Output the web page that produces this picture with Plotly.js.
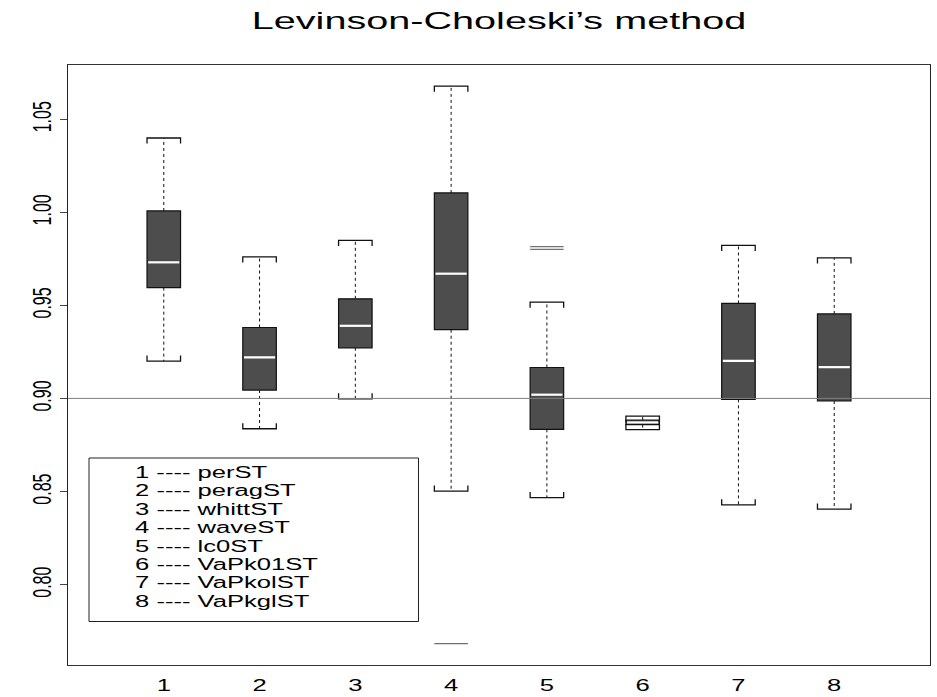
<!DOCTYPE html>
<html>
<head>
<meta charset="utf-8">
<script src="https://cdn.plot.ly/plotly-3.0.1.min.js"></script>
<style>
  html, body { margin: 0; padding: 0; background: #ffffff; }
  #chart { width: 937px; height: 697px; }
</style>
</head>
<body>
<div id="chart"></div>
<script>
// ---------------- data ----------------
const categories   = [1, 2, 3, 4, 5, 6, 7, 8];
const tickLabels   = ['1', '2', '3', '4', '5', '6', '7', '8'];
const methodNames  = ['perST', 'peragST', 'whittST', 'waveST', 'lc0ST', 'VaPk01ST', 'VaPkolST', 'VaPkglST'];
const lowerWhisker = [0.9200, 0.8837, 0.8998, 0.8502, 0.8467, 0.8832, 0.8428, 0.8405];
const q1Values     = [0.9595, 0.9045, 0.9272, 0.9369, 0.8834, 0.8859, 0.8995, 0.8986];
const medianValues = [0.9731, 0.9220, 0.9390, 0.9670, 0.9020, 0.8871, 0.9202, 0.9168];
const q3Values     = [1.0007, 0.9381, 0.9535, 1.0104, 0.9166, 0.8884, 0.9510, 0.9454];
const upperWhisker = [1.0399, 0.9760, 0.9849, 1.0677, 0.9517, 0.8905, 0.9822, 0.9755];
const outlierGroup = [4, 5, 5];
const outlierValue = [0.7683, 0.9815, 0.9801];
const referenceLevel = 0.90;
const yTickValues  = [0.80, 0.85, 0.90, 0.95, 1.00, 1.05];
const yTickText    = ['0.80', '0.85', '0.90', '0.95', '1.00', '1.05'];
const titleText    = 'Levinson-Choleski\u2019s method';

// ---------------- style ----------------
const boxWidth = 0.35;
const half = boxWidth / 2;
const capTick = 0.003;        // little bracket ends on the caps (y units)
const FONT = 'Liberation Sans, Arial, Helvetica, sans-serif';
const STRETCH = 1.6;          // reference text is horizontally stretched
const TITLE_STRETCH = 1.65;

// ---------------- traces ----------------
const traces = [];

// boxes (Q1 -> Q3)
traces.push({
  type: 'bar',
  x: categories,
  base: q1Values,
  y: q3Values.map((v, i) => v - q1Values[i]),
  width: boxWidth,
  marker: { color: '#4d4d4d', line: { color: '#111111', width: 1.2 } },
  hoverinfo: 'skip',
  showlegend: false
});

// whiskers (dotted)
const wx = [], wy = [];
categories.forEach((c, i) => {
  wx.push(c, c, null, c, c, null);
  wy.push(q3Values[i], upperWhisker[i], null, q1Values[i], lowerWhisker[i], null);
});
traces.push({
  type: 'scatter', mode: 'lines', x: wx, y: wy,
  line: { color: '#111111', width: 1, dash: 'dot' },
  hoverinfo: 'skip', showlegend: false
});

// caps with bracket ends
const cx = [], cy = [];
categories.forEach((c, i) => {
  const u = upperWhisker[i], l = lowerWhisker[i];
  cx.push(c - half, c - half, c + half, c + half, null);
  cy.push(u - capTick, u, u, u - capTick, null);
  cx.push(c - half, c - half, c + half, c + half, null);
  cy.push(l + capTick, l, l, l + capTick, null);
});
traces.push({
  type: 'scatter', mode: 'lines', x: cx, y: cy,
  line: { color: '#111111', width: 1.3 },
  hoverinfo: 'skip', showlegend: false
});

// medians (white)
const mx = [], my = [];
categories.forEach((c, i) => {
  mx.push(c - half * 0.93, c + half * 0.93, null);
  my.push(medianValues[i], medianValues[i], null);
});
traces.push({
  type: 'scatter', mode: 'lines', x: mx, y: my,
  line: { color: '#ffffff', width: 2.2 },
  hoverinfo: 'skip', showlegend: false
});

// outliers drawn as short horizontal bars
const ox = [], oy = [];
outlierGroup.forEach((g, i) => {
  ox.push(g - half, g + half, null);
  oy.push(outlierValue[i], outlierValue[i], null);
});
traces.push({
  type: 'scatter', mode: 'lines', x: ox, y: oy,
  line: { color: '#707070', width: 1.2 },
  hoverinfo: 'skip', showlegend: false
});

// ---------------- layout ----------------
const W = 937, H = 697;
const M = { l: 68, r: 7, t: 65, b: 32 };
const plotW = W - M.l - M.r, plotH = H - M.t - M.b;
const px2x = p => (p - M.l) / plotW;
const py2y = p => (H - M.b - p) / plotH;

const annotations = methodNames.map((name, i) => ({
  xref: 'paper', yref: 'paper',
  x: px2x(133), y: py2y(472.5 + i * 18.4),
  xanchor: 'left', yanchor: 'middle',
  text: categories[i] + ' ---- ' + name,
  showarrow: false,
  font: { family: FONT, size: 16, color: '#000000' }
}));

const layout = {
  width: W, height: H,
  margin: M,
  paper_bgcolor: '#ffffff', plot_bgcolor: '#ffffff',
  showlegend: false,
  title: {
    text: titleText,
    font: { family: FONT, size: 24, color: '#000000' },
    xref: 'paper', x: 0.5, xanchor: 'center',
    yref: 'container', y: 1 - 21 / H, yanchor: 'middle'
  },
  xaxis: {
    range: [0, 9],
    tickmode: 'array', tickvals: categories, ticktext: tickLabels,
    ticks: '', showgrid: false, zeroline: false,
    showline: true, mirror: true, linecolor: '#333333', linewidth: 1,
    tickfont: { family: FONT, size: 16, color: '#000000' },
    ticklabelstandoff: 6,
    fixedrange: true
  },
  yaxis: {
    range: [0.7568, 1.0791],
    tickmode: 'array', tickvals: yTickValues, ticktext: yTickText,
    ticks: 'outside', ticklen: 7, tickcolor: '#444444', tickwidth: 1,
    tickangle: -90,
    showgrid: false, zeroline: false,
    showline: true, mirror: true, linecolor: '#222222', linewidth: 1,
    tickfont: { family: FONT, size: 16, color: '#000000' },
    ticklabelstandoff: 6,
    fixedrange: true
  },
  shapes: [
    {
      type: 'line', xref: 'paper', x0: 0, x1: 1,
      yref: 'y', y0: referenceLevel, y1: referenceLevel,
      line: { color: '#808080', width: 1 }, layer: 'above'
    },
    {
      type: 'rect', xref: 'paper', yref: 'paper',
      x0: px2x(89), x1: px2x(418.5), y0: py2y(621.5), y1: py2y(458),
      line: { color: '#222222', width: 1 }, fillcolor: 'rgba(255,255,255,1)', layer: 'below'
    }
  ],
  annotations: annotations
};

function stretchText(el, sx, origin) {
  const parent = el.parentNode;
  const g = document.createElementNS('http://www.w3.org/2000/svg', 'g');
  parent.insertBefore(g, el);
  g.appendChild(el);
  const bb = g.getBBox();
  const ox = origin === 'left' ? bb.x : bb.x + bb.width / 2;
  g.setAttribute('transform', 'translate(' + ox + ',0) scale(' + sx + ',1) translate(' + (-ox) + ',0)');
}

Plotly.newPlot('chart', traces, layout, { displayModeBar: false, staticPlot: true }).then(gd => {
  gd.querySelectorAll('.gtitle').forEach(el => stretchText(el, TITLE_STRETCH, 'center'));
  gd.querySelectorAll('.xtick text').forEach(el => stretchText(el, STRETCH, 'center'));
  gd.querySelectorAll('.ytick text').forEach(el => stretchText(el, STRETCH, 'center'));
  gd.querySelectorAll('.annotation-text').forEach(el => stretchText(el, STRETCH, 'left'));
});
</script>
</body>
</html>
